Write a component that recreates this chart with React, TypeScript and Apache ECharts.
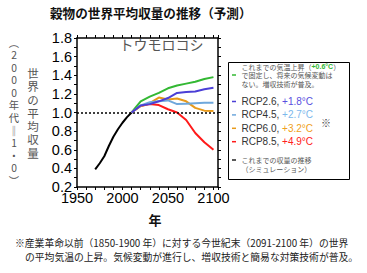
import React, { useEffect, useRef } from 'react';
import * as echarts from 'echarts';

const simYears = [1970, 1975, 1980, 1985, 1990, 1995, 2000, 2005, 2010];
const simValues = [0.39, 0.455, 0.53, 0.64, 0.74, 0.82, 0.89, 0.95, 1.0];

const projYears = [2010, 2020, 2030, 2040, 2050, 2060, 2070, 2080, 2090, 2100];
const fixedClimate = [1.0, 1.12, 1.17, 1.21, 1.26, 1.29, 1.31, 1.33, 1.36, 1.38];
const rcp26 = [1.0, 1.075, 1.09, 1.12, 1.155, 1.21, 1.22, 1.225, 1.25, 1.265];
const rcp45 = [1.0, 1.075, 1.11, 1.12, 1.13, 1.09, 1.095, 1.1, 1.105, 1.105];
const rcp60 = [1.0, 1.07, 1.1, 1.16, 1.14, 1.15, 1.12, 1.05, 1.02, 1.015];
const rcp85 = [1.0, 1.07, 1.09, 1.08, 1.035, 1.0, 0.92, 0.78, 0.68, 0.6];

const scenarioNames = ['RCP2.6,', 'RCP4.5,', 'RCP6.0,', 'RCP8.5,'];
const scenarioTemps = ['+1.8°C', '+2.7°C', '+3.2°C', '+4.9°C'];
const scenarioValues = [rcp26, rcp45, rcp60, rcp85];
const scenarioColors = ['#4b3fd6', '#6fa8dc', '#e89a1a', '#ff1a1a'];
const tempColors = ['#5a4fe0', '#7db8ec', '#f0a020', '#ff2020'];
const fixedColor = '#33b833';

const title = '穀物の世界平均収量の推移（予測）';
const cropName = 'トウモロコシ';
const yTitle = '世界の平均収量';
const yUnitChars = ['︵', '2', '0', '0', '0', '年', '代', '‖', '1', '・', '0', '︶'];
const xTitle = '年';
const footLine1 = '※産業革命以前（1850-1900 年）に対する今世紀末（2091-2100 年）の世界';
const footLine2 = 'の平均気温の上昇。気候変動が進行し、増収技術と簡易な対策技術が普及。';
const fixedLegend = ['これまでの気温上昇（', '+0.6°C', '）', 'で固定し、将来の気候変動は', 'ない。増収技術が普及。'];
const simLegend = ['これまでの収量の推移', '（シミュレーション）'];

const JP = '"Noto Sans CJK JP", "Noto Sans", sans-serif';
const LAT = '"Liberation Sans", Arial, "Noto Sans CJK JP", sans-serif';

const pairs = (xs: number[], ys: number[]) => xs.map((x, i) => [x, ys[i]]);

export default function App() {
  const ref = useRef<HTMLDivElement>(null);
  useEffect(() => {
    document.body.style.margin = '0';
    if (!ref.current) return;
    const chart = echarts.init(ref.current, undefined, { renderer: 'svg' });

    const axisCommon = {
      type: 'value' as const,
      axisLine: { show: true, onZero: false, lineStyle: { color: '#000', width: 1.5 } },
      axisTick: { show: true, length: 3, lineStyle: { color: '#000', width: 1 } },
      splitLine: { show: false },
    };

    const graphics: any[] = [
      {
        type: 'text', left: 50, top: 6,
        style: { text: title, font: `bold 12.6px ${JP}`, fill: '#111' },
      },
      {
        type: 'text', x: 161.5, y: 44,
        style: { text: cropName, font: `14px ${JP}`, fill: '#555', align: 'center', verticalAlign: 'middle' },
      },
      {
        type: 'text', x: 155, y: 219,
        style: { text: xTitle, font: `bold 13px ${JP}`, fill: '#111', align: 'center', verticalAlign: 'middle' },
      },
      {
        type: 'text', x: 15, y: 243,
        style: { text: footLine1, font: `9.8px ${JP}`, fill: '#222', verticalAlign: 'middle' },
      },
      {
        type: 'text', x: 25, y: 257,
        style: { text: footLine2, font: `9.8px ${JP}`, fill: '#222', verticalAlign: 'middle' },
      },
      {
        type: 'text', x: 33, y: 73 - 6.65,
        style: {
          text: yTitle.split('').join('\n'), font: `11.5px ${JP}`, lineHeight: 13.3,
          fill: '#555', align: 'center', verticalAlign: 'top',
        },
      },
      {
        type: 'text', x: 14, y: 42 - 6.3,
        style: {
          text: yUnitChars.join('\n'), font: `10.3px ${JP}`, lineHeight: 12.6,
          fill: '#555', align: 'center', verticalAlign: 'top',
        },
      },
    ];

    // legend box
    graphics.push({
      type: 'rect', shape: { x: 228.5, y: 62.5, width: 121, height: 117 },
      style: { fill: '#fff', stroke: '#000', lineWidth: 1 },
    });
    graphics.push({
      type: 'line', shape: { x1: 232, y1: 75, x2: 236, y2: 75 },
      style: { stroke: fixedColor, lineWidth: 1.5 },
    });
    graphics.push({
      type: 'text', x: 241.5, y: 62.8,
      style: {
        text:
          `{a|${fixedLegend[0]}}{g|${fixedLegend[1]}}{a|${fixedLegend[2]}}\n` +
          `{a|${fixedLegend[3]}}\n{a|${fixedLegend[4]}}`,
        verticalAlign: 'top',
        rich: {
          a: { font: `7px ${JP}`, fill: '#555', lineHeight: 8.4 },
          g: { font: `bold 7px ${LAT}`, fill: fixedColor, lineHeight: 8.4 },
        },
      },
    });
    scenarioNames.forEach((nm, i) => {
      const yy = 101.5 + i * 13.4;
      graphics.push({
        type: 'line', shape: { x1: 232, y1: yy, x2: 236, y2: yy },
        style: { stroke: scenarioColors[i], lineWidth: 1.5 },
      });
      graphics.push({
        type: 'text', x: 241.5, y: yy,
        style: {
          text: `{a|${nm} }{t|${scenarioTemps[i]}}`,
          verticalAlign: 'middle',
          rich: {
            a: { font: `10px ${LAT}`, fill: '#333' },
            t: { font: `10px ${LAT}`, fill: tempColors[i] },
          },
        },
      });
    });
    graphics.push({
      type: 'text', x: 326, y: 122,
      style: { text: '※', font: `10px ${JP}`, fill: '#444', align: 'center', verticalAlign: 'middle' },
    });
    graphics.push({
      type: 'line', shape: { x1: 232, y1: 160, x2: 236, y2: 160 },
      style: { stroke: '#222', lineWidth: 1.5 },
    });
    graphics.push({
      type: 'text', x: 241.5, y: 155.8,
      style: {
        text: simLegend.join('\n'), font: `7px ${JP}`, lineHeight: 8.5,
        fill: '#555', verticalAlign: 'top',
      },
    });

    const lineSeries = (name: string, data: number[][], color: string, z: number) => ({
      name,
      type: 'line',
      data,
      showSymbol: false,
      symbol: 'none',
      smooth: false,
      z,
      lineStyle: { color, width: 2 },
      xAxisIndex: 0,
      yAxisIndex: 0,
    });

    const drawOrder = [3, 2, 1, 0];
    const series: any[] = [
      {
        ...lineSeries('simulation', pairs(simYears, simValues), '#000', 3),
        markLine: {
          silent: true,
          symbol: 'none',
          label: { show: false },
          lineStyle: { color: '#000', type: [2, 2], width: 1.5 },
          data: [{ yAxis: 1.0 }],
        },
      },
      lineSeries('fixed', pairs(projYears, fixedClimate), fixedColor, 3),
      ...drawOrder.map((i, k) =>
        lineSeries(scenarioNames[i], pairs(projYears, scenarioValues[i]), scenarioColors[i], 3 + k)
      ),
    ];

    chart.setOption({
      animation: false,
      backgroundColor: '#fff',
      grid: { left: 77, right: 149, top: 38, bottom: 86, containLabel: false },
      xAxis: [
        {
          ...axisCommon,
          position: 'bottom',
          min: 1950,
          max: 2105,
          interval: 10,
          axisLabel: {
            formatter: (v: number) => (Math.round(v) % 50 === 0 ? String(Math.round(v)) : ''),
            color: '#000',
            fontSize: 14.5,
            fontFamily: LAT,
            margin: 4,
          },
        },
        {
          ...axisCommon,
          position: 'top',
          min: 1950,
          max: 2105,
          interval: 10,
          axisLabel: { show: false },
        },
      ],
      yAxis: [
        {
          ...axisCommon,
          position: 'left',
          min: 0.2,
          max: 1.8,
          interval: 0.1,
          axisLabel: {
            formatter: (v: number) => {
              const r = Math.round(v * 10);
              return r % 2 === 0 ? (r / 10).toFixed(1) : '';
            },
            color: '#000',
            fontSize: 14.5,
            fontFamily: LAT,
            margin: 5,
          },
        },
        {
          ...axisCommon,
          position: 'right',
          min: 0.2,
          max: 1.8,
          interval: 0.1,
          axisLabel: { show: false },
        },
      ],
      graphic: graphics,
      series,
    });
    return () => chart.dispose();
  }, []);
  return <div ref={ref} style={{ width: 367, height: 273 }} />;
}
